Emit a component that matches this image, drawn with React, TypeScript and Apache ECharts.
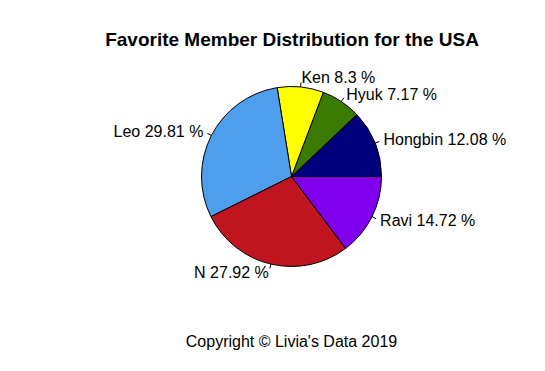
import React, { useEffect, useRef } from "react";
import * as echarts from "echarts";

const members = ["Hongbin", "Hyuk", "Ken", "Leo", "N", "Ravi"];
const shares = [12.08, 7.17, 8.3, 29.81, 27.92, 14.72];
const colors = ["#00007a", "#3b7a00", "#ffff00", "#4f9ded", "#c0141e", "#8000ee"];
const titleText = "Favorite Member Distribution for the USA";
const footerText = "Copyright © Livia's Data 2019";

export default function App() {
  const ref = useRef<HTMLDivElement>(null);
  useEffect(() => {
    if (!ref.current) return;
    const chart = echarts.init(ref.current, null, { renderer: "svg" });
    const font = "'Liberation Sans', Arial, Helvetica, sans-serif";
    const cx = 291.5;
    const cy = 176.5;
    const r = 90;
    const total = shares.reduce((a, b) => a + b, 0);
    const mids: number[] = [];
    let acc = 0;
    shares.forEach((s) => {
      mids.push(((acc + s / 2) / total) * Math.PI * 2);
      acc += s;
    });
    chart.setOption({
      animation: false,
      backgroundColor: "#ffffff",
      title: [
        {
          text: titleText,
          left: 287,
          top: 25,
          textAlign: "center",
          textStyle: { fontFamily: font, fontSize: 19, fontWeight: "bold", color: "#000" },
        },
        {
          text: footerText,
          left: 286.5,
          top: 328,
          textAlign: "center",
          textStyle: { fontFamily: font, fontSize: 16, fontWeight: "normal", color: "#000" },
        },
      ],
      series: [
        {
          type: "pie",
          center: [cx, cy],
          radius: r,
          startAngle: 0,
          clockwise: false,
          avoidLabelOverlap: false,
          data: members.map((m, i) => ({
            name: m,
            value: shares[i],
            itemStyle: { color: colors[i] },
          })),
          itemStyle: { borderColor: "#000", borderWidth: 1 },
          emphasis: { disabled: true },
          label: {
            show: true,
            position: "outside",
            formatter: "{b} {c} %",
            fontFamily: font,
            fontSize: 16,
            color: "#000",
          },
          labelLine: {
            show: true,
            length: 4.5,
            length2: 0,
            smooth: false,
            lineStyle: { color: "#000", width: 1 },
          },
          labelLayout: (params: any) => {
            const a = mids[params.dataIndex];
            const c = Math.cos(a);
            const s = Math.sin(a);
            return {
              x: cx + 1.1 * r * c,
              y: cy - 1.1 * r * s,
              align: c > 0 ? "left" : "right",
              verticalAlign: "middle",
              hideOverlap: false,
              labelLinePoints: [
                [cx + r * c, cy - r * s],
                [cx + 1.05 * r * c, cy - 1.05 * r * s],
                [cx + 1.05 * r * c, cy - 1.05 * r * s],
              ],
            };
          },
        },
      ],
    });
    return () => chart.dispose();
  }, []);
  return (
    <div
      ref={ref}
      style={{ position: "fixed", left: 0, top: 0, width: 545, height: 371 }}
    />
  );
}
